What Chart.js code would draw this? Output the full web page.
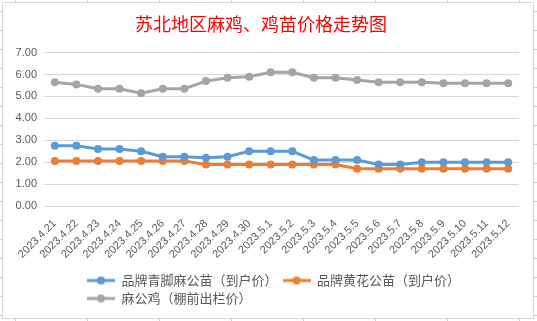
<!DOCTYPE html>
<html>
<head>
<meta charset="utf-8">
<script src="https://cdn.jsdelivr.net/npm/chart.js@4"></script>
<style>
  html, body { margin: 0; padding: 0; }
  body {
    width: 537px; height: 321px; position: relative; overflow: hidden;
    background-color: #fff;
    background-image:
      linear-gradient(to right, #c9cde0 1px, transparent 1px),
      linear-gradient(to bottom, #c9cde0 1px, transparent 1px);
    background-size: 72px 100%, 100% 19px;
    background-position: 15px 0, 0 11px;
  }
  #box {
    position: absolute; left: 2px; top: 2px; width: 532px; height: 317px;
    box-sizing: border-box; border: 1px solid #d9d9d9; background: #fff;
  }
  #box canvas { display: block; }
</style>
</head>
<body>
<div id="box"><canvas id="chart" width="530" height="315"></canvas></div>
<script>
// data
const dates = ['2023.4.21', '2023.4.22', '2023.4.23', '2023.4.24', '2023.4.25', '2023.4.26',
  '2023.4.27', '2023.4.28', '2023.4.29', '2023.4.30', '2023.5.1', '2023.5.2', '2023.5.3',
  '2023.5.4', '2023.5.5', '2023.5.6', '2023.5.7', '2023.5.8', '2023.5.9', '2023.5.10',
  '2023.5.11', '2023.5.12'];
const qingjiao = [2.75, 2.75, 2.6, 2.6, 2.5, 2.25, 2.25, 2.2, 2.25, 2.5, 2.5, 2.5, 2.1, 2.1,
  2.1, 1.9, 1.9, 2.0, 2.0, 2.0, 2.0, 2.0];
const huanghua = [2.05, 2.05, 2.05, 2.05, 2.05, 2.05, 2.05, 1.9, 1.9, 1.9, 1.9, 1.9, 1.9, 1.9,
  1.7, 1.7, 1.7, 1.7, 1.7, 1.7, 1.7, 1.7];
const magongji = [5.65, 5.55, 5.35, 5.35, 5.15, 5.35, 5.35, 5.7, 5.85, 5.9, 6.1, 6.1, 5.85,
  5.85, 5.75, 5.65, 5.65, 5.65, 5.6, 5.6, 5.6, 5.6];
const seriesNames = ['品牌青脚麻公苗（到户价）', '品牌黄花公苗（到户价）', '麻公鸡（棚前出栏价）'];
const yTicks = [0, 1, 2, 3, 4, 5, 6, 7];

const colors = ['#5b9bd5', '#ed7d31', '#a5a5a5'];

// little line+marker swatch for legend
function swatch(color) {
  const c = document.createElement('canvas');
  c.width = 28; c.height = 10;
  const g = c.getContext('2d');
  g.strokeStyle = color; g.lineWidth = 3;
  g.beginPath(); g.moveTo(0, 5); g.lineTo(28, 5); g.stroke();
  g.fillStyle = color;
  g.beginPath(); g.arc(14, 5, 4, 0, Math.PI * 2); g.fill();
  return c;
}
const swatches = colors.map(swatch);

// excel keeps legend rows left aligned in a centred block
const legendShift = {
  id: 'legendShift',
  afterLayout(chart) { chart.legend.left = 79; }
};

function ds(label, data, color) {
  return {
    label, data,
    borderColor: color, backgroundColor: color,
    borderWidth: 3, pointRadius: 4, pointHoverRadius: 4,
    pointBorderWidth: 0, tension: 0
  };
}

new Chart(document.getElementById('chart'), {
  type: 'line',
  data: {
    labels: dates,
    datasets: [
      ds(seriesNames[0], qingjiao, colors[0]),
      ds(seriesNames[1], huanghua, colors[1]),
      ds(seriesNames[2], magongji, colors[2])
    ]
  },
  options: {
    responsive: false,
    animation: false,
    layout: { padding: { left: 0, right: 14, top: 0, bottom: 3 } },
    plugins: {
      title: {
        display: true,
        text: '苏北地区麻鸡、鸡苗价格走势图',
        color: '#ff0000',
        font: { family: '"Noto Sans CJK SC", sans-serif', size: 18, weight: 'normal' },
        padding: { top: 10, bottom: 18 }
      },
      legend: {
        position: 'bottom',
        align: 'start',
        labels: {
          color: '#595959',
          font: { family: '"Noto Sans CJK SC", sans-serif', size: 13 },
          usePointStyle: true,
          pointStyleWidth: 28,
          padding: 5,
          generateLabels(chart) {
            return Chart.defaults.plugins.legend.labels.generateLabels(chart).map((item, i) => {
              item.pointStyle = swatches[i];
              return item;
            });
          }
        }
      },
      tooltip: { enabled: false }
    },
    scales: {
      x: {
        offset: true,
        grid: { display: false },
        border: { display: false },
        afterFit(scale) { scale.height += 5; },
        ticks: {
          color: '#595959',
          font: { family: '"Liberation Sans", sans-serif', size: 11 },
          minRotation: 45, maxRotation: 45, autoSkip: false
        }
      },
      y: {
        min: yTicks[0], max: yTicks[yTicks.length - 1],
        afterBuildTicks(scale) { scale.ticks = yTicks.map(v => ({ value: v })); },
        afterFit(scale) { scale.width = 41; },
        grid: { color: '#d9d9d9', drawTicks: false },
        border: { display: false },
        ticks: {
          color: '#595959', padding: 7,
          font: { family: '"Liberation Sans", sans-serif', size: 11 },
          callback: v => v.toFixed(2)
        }
      }
    }
  },
  plugins: [legendShift]
});
</script>
</body>
</html>
